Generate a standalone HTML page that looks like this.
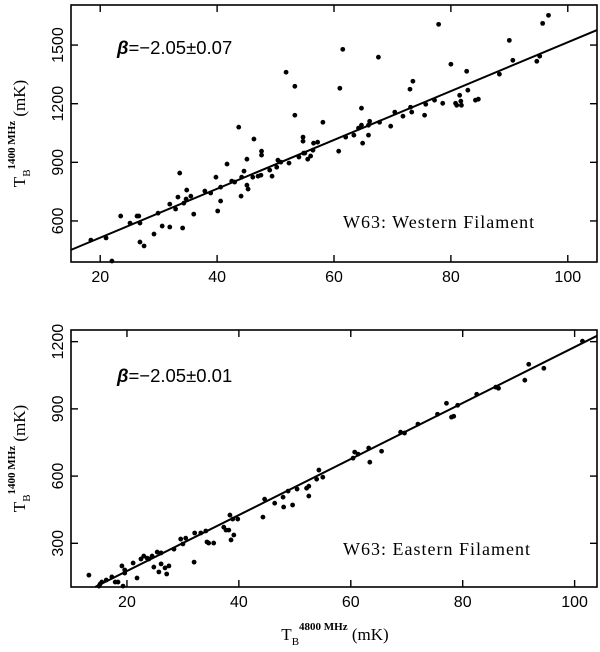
<!DOCTYPE html>
<html><head><meta charset="utf-8"><style>
html,body{margin:0;padding:0;background:#fff;}
svg{display:block;}
</style></head><body>
<svg id="chart" width="600" height="652" xmlns="http://www.w3.org/2000/svg"></svg>
<script>
// Top panel: Western Filament
const westX=[18.4,21.0,23.5,25.1,26.3,26.6,26.8,26.8,27.5,22.0,29.2,29.9,30.6,31.9,31.9,32.9,33.6,34.1,34.3,33.3,34.7,34.8,35.5,36.0,37.9,38.9,39.8,40.1,40.6,40.6,41.7,42.5,43.0,43.7,44.1,44.2,44.6,45.1,45.1,45.3,46.1,46.3,47.0,47.5,47.6,47.6,49.0,49.4,50.2,50.4,50.9,51.8,52.3,53.3,53.3,54.0,54.7,54.7,55.0,54.8,55.5,56.0,56.4,56.5,57.2,58.1,60.8,61.0,61.5,62.0,63.4,64.2,64.7,64.7,64.9,65.9,66.1,65.9,67.6,67.8,69.7,70.4,71.8,73.0,73.1,73.5,73.3,75.5,75.7,77.2,77.9,78.6,80.0,80.8,81.0,81.5,81.7,81.8,82.7,82.9,84.2,84.7,88.3,90.0,90.6,94.7,95.2,95.7,96.7];
const westY=[502,513,625,589,625,625,589,492,472,395,533,640,574,569,686,661,845,564,691,722,712,758,727,635,753,743,824,651,702,773,891,804,799,1080,727,824,855,916,783,763,824,1019,829,834,937,957,860,829,875,911,901,1361,896,1289,1141,927,1029,1008,947,947,916,932,962,998,1003,1105,957,1279,1478,1029,1039,1075,1090,1177,998,1039,1110,1090,1438,1105,1085,1157,1136,1274,1182,1315,1157,1141,1197,1218,1606,1202,1402,1202,1192,1243,1213,1192,1366,1269,1218,1223,1351,1524,1422,1417,1443,1611,1652];
const westFit=[[15,452],[105,1577]];
// Bottom panel: Eastern Filament
const eastX=[13.2,15.0,15.2,15.5,16.3,17.3,17.9,18.4,19.3,19.1,19.6,19.6,21.1,21.8,22.5,23.0,23.6,23.9,24.5,24.8,25.4,25.7,26.1,26.1,26.8,27.1,27.5,28.4,29.6,30.0,30.5,32.0,32.1,33.2,34.1,34.3,34.6,35.5,37.3,37.7,38.2,38.4,38.6,38.9,39.1,39.8,44.3,44.6,46.4,47.9,48.0,48.8,49.6,50.4,52.1,52.5,52.5,53.9,54.3,55.0,60.4,60.7,61.3,63.2,63.4,65.5,68.9,69.6,72.0,75.5,77.1,78.0,78.4,79.1,82.5,85.9,86.4,91.1,91.8,94.5,101.4];
const eastY=[158,109,118,127,136,150,127,127,109,199,181,167,212,145,230,243,234,230,243,194,261,172,257,208,190,163,199,274,319,297,323,216,346,346,355,306,301,301,372,359,359,426,315,408,337,408,417,497,479,506,462,533,471,542,546,555,511,586,627,595,680,707,698,725,662,711,796,792,832,876,925,863,867,916,965,997,992,1028,1099,1081,1202];
const eastFit=[[14.3,105],[104,1226]];
const westXTicks=[20,40,60,80,100];
const westYTicks=[600,900,1200,1500];
const eastXTicks=[20,40,60,80,100];
const eastYTicks=[300,600,900,1200];

const NS="http://www.w3.org/2000/svg";
const svg=document.getElementById('chart');
function mk(tag,attrs,parent){const e=document.createElementNS(NS,tag);for(const k in attrs)e.setAttribute(k,attrs[k]);(parent||svg).appendChild(e);return e;}

function panel(o){
  const g=mk('g',{});
  
  
  const L=71,R=597,T=o.top,B=o.bottom;
  const sx=v=>L+(v-o.xmin)/(o.xmax-o.xmin)*(R-L);
  const sy=v=>B-(v-o.ymin)/(o.ymax-o.ymin)*(B-T);
  const fr=mk('rect',{x:L,y:T,width:R-L,height:B-T,fill:'none',stroke:'#000','stroke-width':1.6},g);
  
  
  o.xt.forEach(v=>{
    const x=sx(v);
    const t1=mk('line',{x1:x,x2:x,y1:B,y2:B-7,stroke:'#000','stroke-width':1.4},g);
    
    
    mk('line',{x1:x,x2:x,y1:T,y2:T+7,stroke:'#000','stroke-width':1.4},g);
    const tx=mk('text',{x:x,y:B+20,'text-anchor':'middle','font-family':'Liberation Sans, sans-serif','font-size':16},g);
    tx.textContent=v;
    
    
  });
  o.yt.forEach(v=>{
    const y=sy(v);
    const t1=mk('line',{x1:L,x2:L+7,y1:y,y2:y,stroke:'#000','stroke-width':1.4},g);
    
    
    mk('line',{x1:R,x2:R-7,y1:y,y2:y,stroke:'#000','stroke-width':1.4},g);
    const tx=mk('text',{x:0,y:0,transform:`translate(63,${y}) rotate(-90)`,'text-anchor':'middle','font-family':'Liberation Sans, sans-serif','font-size':16},g);
    tx.textContent=v;
    
    
  });
  const fl=mk('line',{x1:sx(o.fit[0][0]),y1:sy(o.fit[0][1]),x2:sx(o.fit[1][0]),y2:sy(o.fit[1][1]),stroke:'#000','stroke-width':2},g);
  
  
  o.xs.forEach((v,i)=>{
    const c=mk('circle',{cx:sx(v),cy:sy(o.ys[i]),r:2.4,fill:'#000'},g);
    
    
  });
  const b=mk('text',{x:117,y:o.betaY,'font-family':'Liberation Sans, sans-serif','font-size':18.5},g);
  b.innerHTML='<tspan font-weight="bold" font-style="italic">β</tspan>=−2.05±'+o.err;
  
  
  const lb=mk('text',{x:343,y:o.labY,'font-family':'Liberation Serif, serif','font-size':18,'letter-spacing':1},g);
  lb.textContent=o.label;
  
  
  const yt=mk('text',{x:0,y:0,transform:`translate(25,${(T+B)/2}) rotate(-90)`,'text-anchor':'middle','font-family':'Liberation Serif, serif','font-size':17},g);
  yt.innerHTML='T<tspan font-size="11" dy="5">B</tspan><tspan font-size="11" font-weight="bold" dy="-15">1400 MHz</tspan><tspan dy="10"> (mK)</tspan>';
  
  
}
panel({name:'western-panel',top:5,bottom:262,xmin:15,xmax:105,ymin:390,ymax:1705,xt:westXTicks,yt:westYTicks,xs:westX,ys:westY,fit:westFit,err:'0.07',betaY:54,labY:228,label:'W63: Western Filament'});
panel({name:'eastern-panel',top:330,bottom:587,xmin:10,xmax:104,ymin:105,ymax:1252,xt:eastXTicks,yt:eastYTicks,xs:eastX,ys:eastY,fit:eastFit,err:'0.01',betaY:382,labY:555,label:'W63: Eastern Filament'});
const xt=mk('text',{x:335,y:640,'text-anchor':'middle','font-family':'Liberation Serif, serif','font-size':17});
xt.innerHTML='T<tspan font-size="11" dy="5">B</tspan><tspan font-size="11" font-weight="bold" dy="-15">4800 MHz</tspan><tspan dy="10"> (mK)</tspan>';


</script>
</body></html>
